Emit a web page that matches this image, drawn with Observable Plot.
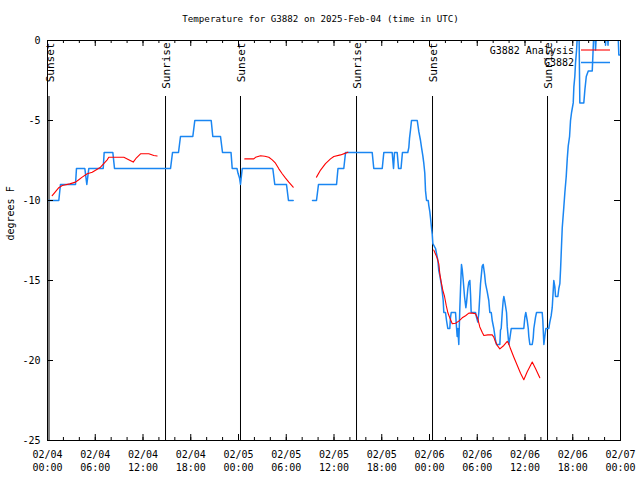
<!DOCTYPE html>
<html><head><meta charset="utf-8">
<script src="https://cdn.jsdelivr.net/npm/d3@7"></script>
<script src="https://cdn.jsdelivr.net/npm/@observablehq/plot@0.6"></script>
<style>body{margin:0;background:#fff} svg{display:block}</style>
</head><body><div id="chart"></div>
<script>
const title = "Temperature for G3882 on 2025-Feb-04 (time in UTC)";
const yLabel = "degrees F";
const startDate = "2025-02-04T00:00Z";
const endDate = "2025-02-07T00:00Z";
const xTickHours = [0, 6, 12, 18, 24, 30, 36, 42, 48, 54, 60, 66, 72];
const xTickLabels = ["02/04\n00:00","02/04\n06:00","02/04\n12:00","02/04\n18:00","02/05\n00:00","02/05\n06:00","02/05\n12:00","02/05\n18:00","02/06\n00:00","02/06\n06:00","02/06\n12:00","02/06\n18:00","02/07\n00:00"];
const yTicks = [-25, -20, -15, -10, -5, 0];
const yTickLabels = ["-25", "-20", "-15", "-10", "-5", "0"];

// G3882 observations (hours since 02/04 00:00 UTC, degrees F); null = gap
const obsHours = [0,1.42,1.63,3.52,3.64,4.69,4.94,5.19,7.0,7.12,8.21,8.42,15.46,15.71,16.46,16.71,18.26,18.51,20.57,20.77,21.74,21.99,23.06,23.21,23.81,23.94,24.13,24.25,24.47,28.31,28.56,30.03,30.28,30.87,31.5,
33.3,33.8,34.05,36.32,36.5,37.23,37.45,40.8,41.0,42.06,42.26,43.31,43.48,43.6,43.94,44.11,44.42,44.6,45.27,45.4,45.49,45.61,45.74,46.46,46.66,46.87,47.0,47.16,47.29,47.41,47.5,47.63,47.84,47.91,48.04,48.13,48.25,48.34,48.42,48.76,48.88,49.05,49.17,49.3,49.47,49.6,49.72,49.8,50.01,50.14,50.3,50.55,50.64,50.73,51.27,51.39,51.48,51.56,51.68,51.81,51.9,52.02,52.11,52.24,52.4,52.57,52.65,52.82,52.94,53.07,53.16,53.24,53.78,53.91,54.07,54.2,54.41,54.62,54.75,54.92,55.04,55.25,55.45,55.58,55.76,55.88,56.08,56.3,56.42,56.84,56.92,57.01,57.14,57.26,57.34,57.46,57.68,57.77,57.97,58.1,58.27,59.85,59.98,60.1,60.28,60.41,60.48,60.61,60.91,61.03,61.11,61.32,61.45,62.16,62.24,62.37,62.49,62.62,62.99,63.12,63.29,63.42,63.55,63.62,63.75,63.84,64.13,64.25,64.38,64.47,64.59,64.68,64.88,65.01,65.18,65.31,65.43,65.6,65.72,65.85,66.06,66.14,66.26,66.35,66.48,66.6,66.79,66.89,67.39,67.52,67.7,67.95,68.45,68.65,68.8,68.86,68.99,70.06,70.12,70.2,70.37,70.43,70.5,71.69,71.79,72];
const obsTemps = [-10,-10,-9,-9,-8,-8,-9,-8,-8,-7,-7,-8,-8,-7,-7,-6,-6,-5,-5,-6,-6,-7,-7,-8,-8,-8.3,-8.6,-9,-8,-8,-9,-9,-10,-10,null,
-10,-10,-9,-9,-8,-8,-7,-7,-8,-8,-7,-7,-8,-7,-7,-8,-8,-7,-7,-6.7,-6.1,-5.6,-5,-5,-5.7,-6.25,-6.7,-7.2,-7.7,-8.3,-9.4,-10,-10,-10.3,-10.7,-11.1,-11.7,-12.1,-12.7,-13,-13.3,-13.75,-14.4,-14.7,-15.2,-15.7,-16.25,-17,-17,-17.5,-18,-18,-17.3,-17,-17,-17.9,-18.5,-18,-19,-16.75,-15.5,-14,-14.3,-15,-16,-16.7,-16.4,-15.5,-15.1,-15,-15.9,-17,-17,-17.3,-17.6,-17,-15.2,-14.1,-14,-14.6,-15.2,-15.7,-16.25,-17,-17,-17.5,-18,-18.75,-19,-19,-18.1,-18,-17,-16.25,-16,-16.3,-17,-17.9,-19,-18.6,-18,-18,-17.3,-17,-17.5,-18,-18.5,-19,-19,-18.6,-18,-17.3,-17,-17,-17.5,-19,-18.5,-18,-18,-17.6,-17.2,-16.7,-15.6,-15,-15.4,-16,-16,-15.5,-15.2,-14.3,-12.8,-11.7,-10.4,-9.5,-8.5,-7.4,-6.6,-6,-5,-4.5,-3.9,-2.9,-2.25,-1.4,-0.6,0.5,0.5,-3.9,-3.9,-3.1,-2.25,-1.9,-1.9,0.5,0.5,-0.6,0.5,0.5,-0.3,0.5,0.5,-0.3,0.5,0.5,-0.9,-0.9];

// G3882 Analysis
const anaHours = [0.59,1.01,1.42,1.85,2.8,3.52,3.93,4.36,4.99,5.62,6.66,7.07,7.5,7.7,9.59,10.02,10.77,11.18,11.69,12.73,13.36,13.78,19,
24.79,25.92,26.14,26.77,27.31,27.81,28.24,28.65,29.07,29.49,29.91,30.32,30.87,32,
33.8,34.31,34.93,35.56,35.98,36.82,37.45,37.74,43,
48.54,48.97,49.17,49.3,49.47,49.67,49.89,50.1,50.3,50.52,50.86,51.27,51.68,52.11,52.53,52.94,53.37,53.78,54.07,54.32,54.62,54.83,55.33,55.88,56.08,56.3,56.51,56.84,57.34,57.77,57.97,58.18,58.6,59.02,59.44,59.85,60.28,60.91,61.32,61.86];
const anaTemps = [-9.7,-9.45,-9.2,-9.06,-8.96,-8.85,-8.7,-8.54,-8.33,-8.23,-7.92,-7.7,-7.46,-7.3,-7.3,-7.4,-7.6,-7.33,-7.08,-7.08,-7.19,-7.22,null,
-7.4,-7.4,-7.3,-7.2,-7.23,-7.3,-7.46,-7.67,-8.02,-8.33,-8.6,-8.85,-9.17,null,
-8.54,-8.1,-7.7,-7.4,-7.25,-7.15,-7.04,-6.98,null,
-13.1,-13.6,-13.96,-14.6,-15.1,-15.6,-16,-16.56,-17,-17.3,-17.7,-17.67,-17.54,-17.33,-17.2,-17.04,-17.04,-17.08,-17.4,-17.9,-18.23,-18.44,-18.4,-18.4,-18.54,-18.85,-19.06,-19.27,-19.06,-18.8,-18.96,-19.27,-19.8,-20.3,-20.8,-21.2,-20.7,-20.1,-20.5,-21.08];

const sunHours = [0.19, 14.83, 24.25, 38.83, 48.38, 62.83];
const sunLabels = ["Sunset", "Sunrise", "Sunset", "Sunrise", "Sunset", "Sunrise"];
const legendNames = ["G3882 Analysis", "G3882"];
const seriesColors = ["#ff0000", "#1a86f2"];

const t0 = Date.parse(startDate);
const toDate = h => new Date(t0 + h * 3600000);
const obs = obsHours.map((h, i) => ({t: toDate(h), v: obsTemps[i]}));
const ana = anaHours.map((h, i) => ({t: toDate(h), v: anaTemps[i]}));
const sun = sunHours.map((h, i) => ({t: toDate(h), label: sunLabels[i]}));
const xTickDates = xTickHours.map(toDate);
const labelOf = new Map(xTickDates.map((d, i) => [+d, xTickLabels[i]]));
const yLabelOf = new Map(yTicks.map((v, i) => [v, yTickLabels[i]]));
const minorTicks = d3.utcHour.every(2).range(new Date(startDate), new Date(Date.parse(endDate) + 1));

const W = 640, H = 480, mT = 40, mL = 47, mR = 20, mB = 40;
const fw = W - mL - mR, fh = H - mT - mB;

const chart = Plot.plot({
  width: W, height: H,
  marginTop: mT, marginLeft: mL, marginRight: mR, marginBottom: mB,
  style: {fontFamily: "DejaVu Sans Mono", fontSize: "10px", background: "#fff", color: "#000"},
  x: {type: "utc", domain: [new Date(startDate), new Date(endDate)]},
  y: {domain: [-25, 0]},
  marks: [
    // sunrise / sunset markers
    Plot.ruleX(sun, {x: "t", stroke: "#000", strokeWidth: 1, insetTop: 56}),
    Plot.text(sun, {x: "t", text: "label", frameAnchor: "top", rotate: -90, textAnchor: "end", lineAnchor: "middle", dy: 2, dx: 1, fontSize: 11, fill: "#000"}),
    // series
    Plot.line(obs, {x: "t", y: "v", stroke: seriesColors[1], strokeWidth: 1.5, clip: true}),
    Plot.line(ana, {x: "t", y: "v", stroke: seriesColors[0], strokeWidth: 1.1, clip: true}),
    // inward ticks
    Plot.ruleX(minorTicks, {x: d => d, insetTop: fh - 3, stroke: "#000"}),
    Plot.ruleX(minorTicks, {x: d => d, insetBottom: fh - 3, stroke: "#000"}),
    Plot.ruleX(xTickDates, {x: d => d, insetTop: fh - 6, stroke: "#000"}),
    Plot.ruleX(xTickDates, {x: d => d, insetBottom: fh - 6, stroke: "#000"}),
    Plot.ruleY(yTicks, {y: d => d, insetRight: fw - 6, stroke: "#000"}),
    Plot.ruleY(yTicks, {y: d => d, insetLeft: fw - 6, stroke: "#000"}),
    Plot.frame({stroke: "#000"}),
    Plot.axisX(xTickDates, {tickSize: 0, tickPadding: 8, tickFormat: d => labelOf.get(+d), fontSize: 10, lineHeight: 1.3, label: null}),
    Plot.axisY(yTicks, {tickSize: 0, tickPadding: 7, tickFormat: d => yLabelOf.get(d), fontSize: 10, label: null}),
    Plot.text([yLabel], {frameAnchor: "left", rotate: -90, dx: -37, lineAnchor: "middle", fontSize: 10, fill: "#000"}),
    Plot.text([title], {frameAnchor: "top", dy: -21, dx: -13.5, lineAnchor: "middle", fontSize: 9.2, fill: "#000"})
  ]
});
document.getElementById("chart").appendChild(chart);

// legend (top-right, inside frame)
const svg = d3.select(chart);
const lg = svg.append("g").attr("font-family", "DejaVu Sans Mono").attr("font-size", 10);
legendNames.forEach((name, i) => {
  const yy = mT + 10 + i * 12.5;
  lg.append("text").attr("x", W - mR - 46).attr("y", yy).attr("text-anchor", "end").attr("dominant-baseline", "central").attr("fill", "#000").text(name);
  lg.append("line").attr("x1", W - mR - 39).attr("x2", W - mR - 10).attr("y1", yy).attr("y2", yy)
    .attr("stroke", seriesColors[i]).attr("stroke-width", i === 0 ? 1.1 : 1.5);
});
</script>
</body></html>
